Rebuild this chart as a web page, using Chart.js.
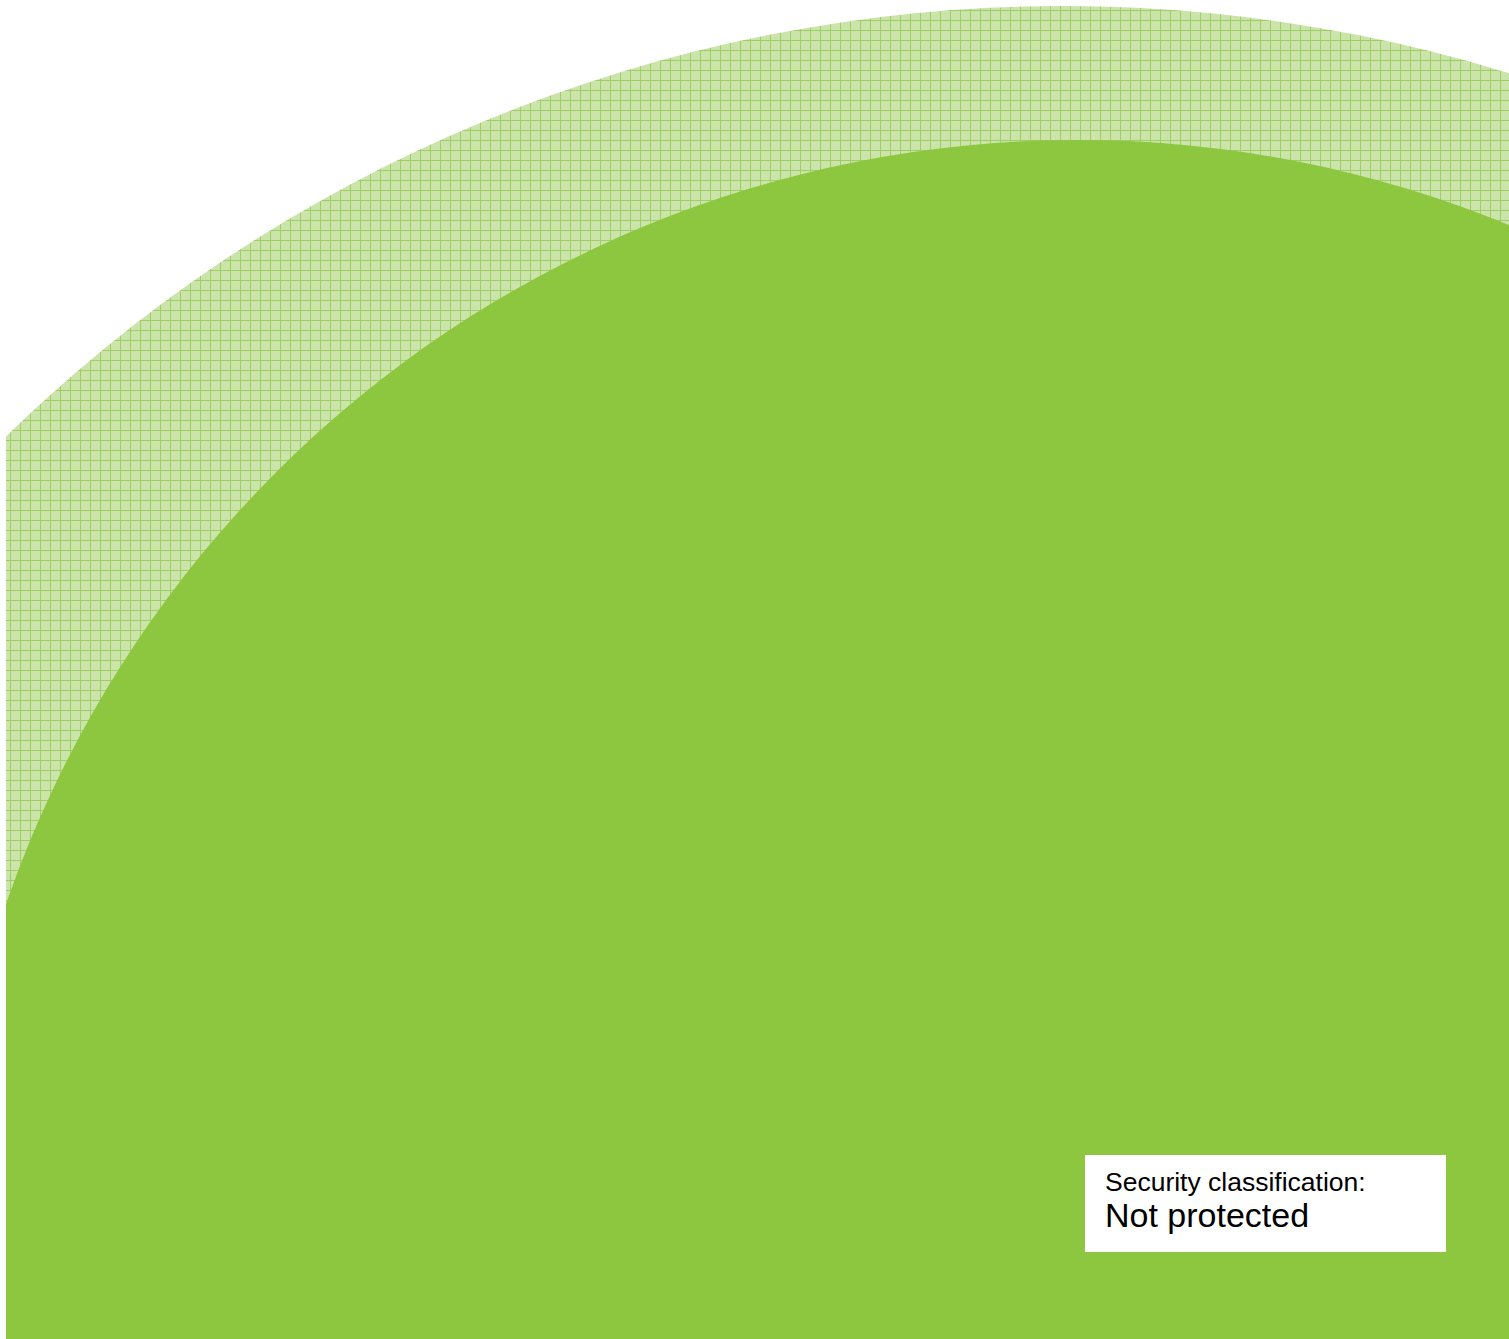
<!DOCTYPE html>
<html>
<head>
<meta charset="utf-8">
<script src="https://cdn.jsdelivr.net/npm/chart.js"></script>
<style>
  html, body { margin: 0; padding: 0; background: #ffffff; }
  #wrap { position: relative; width: 1509px; height: 1339px; overflow: hidden; }
  #cover { display: block; }
  #label {
    position: absolute; left: 1085px; top: 1155px; width: 361px; height: 97px;
    background: #ffffff; box-sizing: border-box; padding: 12px 0 0 20px;
    font-family: "Liberation Sans", Arial, Helvetica, sans-serif; color: #000;
  }
  #label .small { font-size: 26.5px; line-height: 30px; white-space: nowrap; }
  #label .big { font-size: 34px; line-height: 36px; white-space: nowrap; }
</style>
</head>
<body>
<div id="wrap">
  <canvas id="cover" width="1509" height="1339"></canvas>
  <div id="label">
    <div class="small">Security classification:</div>
    <div class="big">Not protected</div>
  </div>
</div>
<script>
// kaksi ympyrää: keskipiste ja säde samoissa yksiköissä kuin akselit
const shapeNames = ["Inner disc", "Outer band"];
const centerX = [1078, 1063];
const centerY = [1274, 1519];
const radii = [1134, 1513];

// ruudukkokuvio ulommalle ympyrälle
function gridPattern() {
  const c = document.createElement("canvas");
  c.width = 10;
  c.height = 10;
  const g = c.getContext("2d");
  g.fillStyle = "#cbe4aa";
  g.fillRect(0, 0, 10, 10);
  g.fillStyle = "#9fce66";
  g.fillRect(0, 0, 10, 1);
  g.fillRect(0, 0, 1, 10);
  return g.createPattern(c, "repeat");
}

// säde pikseleinä x-akselin kautta
function pixelRadius(i, chart) {
  const s = chart.scales.x;
  return Math.abs(s.getPixelForValue(radii[i]) - s.getPixelForValue(0));
}

const ctx = document.getElementById("cover").getContext("2d");

new Chart(ctx, {
  type: "scatter",
  data: {
    datasets: shapeNames.map((name, i) => ({
      label: name,
      data: [{ x: centerX[i], y: centerY[i] }],
      backgroundColor: i === 0 ? "#8dc63f" : gridPattern(),
      borderWidth: 0,
      pointRadius: (c) => pixelRadius(i, c.chart),
      pointHoverRadius: (c) => pixelRadius(i, c.chart),
      clip: 0,
      order: i
    }))
  },
  options: {
    responsive: false,
    animation: false,
    events: [],
    layout: { padding: { left: 6, top: 0, right: 0, bottom: 0 } },
    plugins: { legend: { display: false }, tooltip: { enabled: false } },
    scales: {
      x: { type: "linear", min: 6, max: 1509, display: false },
      y: { type: "linear", min: 0, max: 1339, reverse: true, display: false }
    }
  }
});
</script>
</body>
</html>
